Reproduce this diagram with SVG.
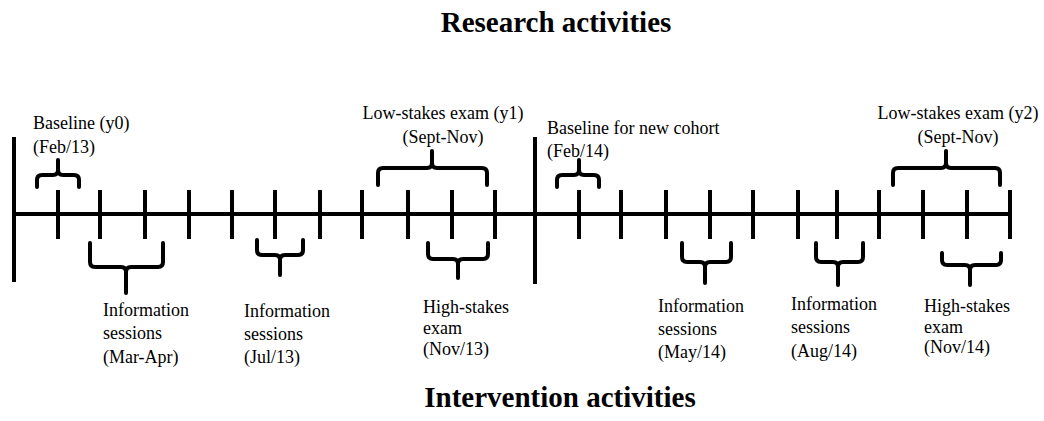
<svg xmlns="http://www.w3.org/2000/svg" width="1044" height="421" viewBox="0 0 1044 421">
<style>
.ln{stroke:#000;stroke-width:4;fill:none}
.br{stroke:#000;stroke-width:4;fill:none;stroke-linecap:round;stroke-linejoin:round}
.t{font-family:"Liberation Serif","Times New Roman",serif;font-size:18px;fill:#000}
.h{font-family:"Liberation Serif","Times New Roman",serif;font-size:29px;font-weight:bold;fill:#000}
</style>
<rect width="1044" height="421" fill="#fff"/>
<text class="h" x="556" y="32" text-anchor="middle">Research activities</text>
<text class="h" x="560" y="407" text-anchor="middle">Intervention activities</text>
<g id="timeline">
<line class="ln" x1="12" y1="214" x2="1012" y2="214"/>
<line class="ln" x1="14" y1="137" x2="14" y2="282"/>
<line class="ln" x1="535" y1="137" x2="535" y2="284"/>
<path class="ln" d="M58 190V239M100 190V239M145 190V239M189 190V239M232 190V239M275 190V239M320 190V239M362 190V239M408 190V239M452 190V239M495 190V239M579 190V239M621 190V239M666 190V239M710 190V239M753 190V239M798 190V239M837 190V239M879 190V239M923 190V239M967 190V239M1010 190V239"/>
</g>
<g id="connectors">
<path class="br" d="M37 187V180Q37 175 42 175H53Q58 175 58 170V160M58 170Q58 175 63 175H74Q79 175 79 180V187"/>
<path class="br" d="M378 185V173Q378 168 383 168H427Q432 168 432 163V151M432 163Q432 168 437 168H482Q487 168 487 173V185"/>
<path class="br" d="M557 187V180Q557 175 562 175H574Q579 175 579 170V160M579 170Q579 175 584 175H594Q599 175 599 180V187"/>
<path class="br" d="M893 185V173Q893 168 898 168H941Q946 168 946 163V151M946 163Q946 168 951 168H995Q1000 168 1000 173V185"/>
<path class="br" d="M90 243V262Q90 267 95 267H121Q126 267 126 272V293M126 272Q126 267 131 267H158Q163 267 163 262V243"/>
<path class="br" d="M257 240V250Q257 255 262 255H275Q280 255 280 260V275M280 260Q280 255 285 255H298Q303 255 303 250V240"/>
<path class="br" d="M428 243V254Q428 259 433 259H453Q458 259 458 264V278M458 264Q458 259 463 259H483Q488 259 488 254V243"/>
<path class="br" d="M682 243V257Q682 262 687 262H700Q705 262 705 267V283M705 267Q705 262 710 262H726Q731 262 731 257V243"/>
<path class="br" d="M816 243V257Q816 262 821 262H833Q838 262 838 267V285M838 267Q838 262 843 262H858Q863 262 863 257V243"/>
<path class="br" d="M942 253V260Q942 265 947 265H965Q970 265 970 270V285M970 270Q970 265 975 265H996Q1001 265 1001 260V253"/>
</g>
<g id="n-baseline0"><text class="t" x="33" y="129">Baseline (y0)</text><text class="t" x="33" y="153">(Feb/13)</text></g>
<g id="n-lowstakes1"><text class="t" x="443" y="119" text-anchor="middle">Low-stakes exam (y1)</text><text class="t" x="443" y="143" text-anchor="middle">(Sept-Nov)</text></g>
<g id="n-baseline1"><text class="t" x="547" y="134">Baseline for new cohort</text><text class="t" x="547" y="157">(Feb/14)</text></g>
<g id="n-lowstakes2"><text class="t" x="958" y="119" text-anchor="middle">Low-stakes exam (y2)</text><text class="t" x="958" y="143" text-anchor="middle">(Sept-Nov)</text></g>
<g id="n-info1"><text class="t" x="103" y="316">Information</text><text class="t" x="103" y="339">sessions</text><text class="t" x="103" y="363">(Mar-Apr)</text></g>
<g id="n-info2"><text class="t" x="244" y="317">Information</text><text class="t" x="244" y="340">sessions</text><text class="t" x="244" y="363">(Jul/13)</text></g>
<g id="n-high1"><text class="t" x="423" y="313">High-stakes</text><text class="t" x="423" y="334">exam</text><text class="t" x="423" y="355">(Nov/13)</text></g>
<g id="n-info3"><text class="t" x="658" y="312">Information</text><text class="t" x="658" y="335">sessions</text><text class="t" x="658" y="358">(May/14)</text></g>
<g id="n-info4"><text class="t" x="791" y="310">Information</text><text class="t" x="791" y="333">sessions</text><text class="t" x="791" y="357">(Aug/14)</text></g>
<g id="n-high2"><text class="t" x="924" y="312">High-stakes</text><text class="t" x="924" y="333">exam</text><text class="t" x="924" y="353">(Nov/14)</text></g>
</svg>
